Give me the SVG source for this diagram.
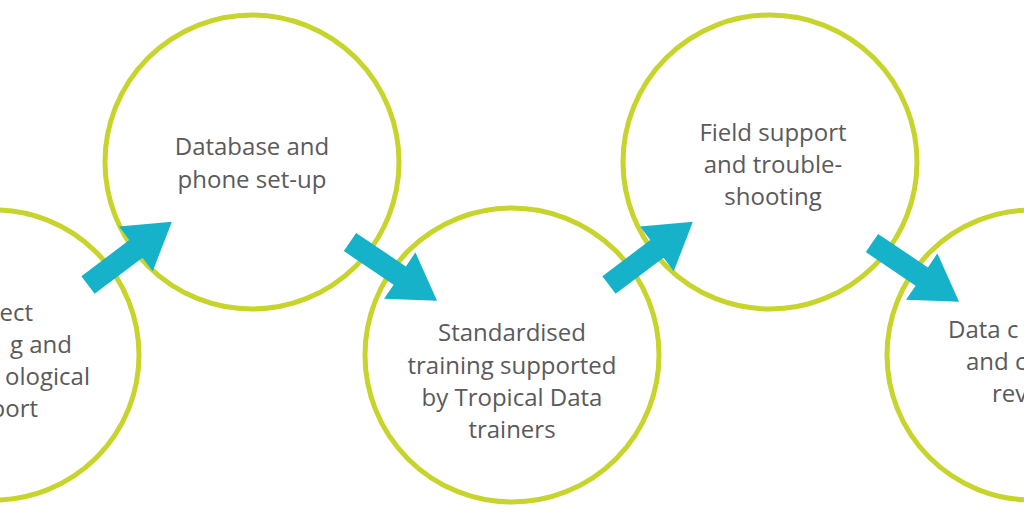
<svg xmlns="http://www.w3.org/2000/svg" width="1024" height="512" viewBox="0 0 1024 512">
<style>
.c{fill:none;stroke:#c6d42c;stroke-width:5}
.a{fill:#16b2c9}
text{font-family:"Open Sans","Liberation Sans",sans-serif;font-size:24px;fill:#5a5a5a}
</style>
<defs><path id="arr" d="M0,-11 L60,-11 L60,-28 L105,0 L60,28 L60,11 L0,11 Z"/></defs>
<rect width="1024" height="512" fill="#fff"/>
<g id="n1"><circle class="c" cx="-6" cy="355" r="145"/>
<text text-anchor="end" x="33" y="321">ect</text><text text-anchor="end" x="72" y="353">g and</text><text text-anchor="end" x="90" y="385">ological</text><text text-anchor="end" x="38" y="417">port</text></g>
<g id="n2"><circle class="c" cx="252" cy="162" r="147"/>
<text text-anchor="middle" x="252" y="155">Database and</text><text text-anchor="middle" x="252" y="188">phone set-up</text></g>
<g id="n3"><circle class="c" cx="512" cy="355" r="147"/>
<text text-anchor="middle" x="512" y="341">Standardised</text><text text-anchor="middle" x="512" y="374">training supported</text><text text-anchor="middle" x="512" y="406">by Tropical Data</text><text text-anchor="middle" x="512" y="438">trainers</text></g>
<g id="n4"><circle class="c" cx="770" cy="162" r="147"/>
<text text-anchor="middle" x="773" y="141">Field support</text><text text-anchor="middle" x="773" y="173">and trouble-</text><text text-anchor="middle" x="773" y="205">shooting</text></g>
<g id="n5"><circle class="c" cx="1032" cy="355" r="145"/>
<text x="948" y="338">Data c</text><text x="966" y="370">and c</text><text x="992" y="402">rev</text></g>
<g id="connectors">
<use href="#arr" class="a" transform="translate(88,285) rotate(-37)"/>
<use href="#arr" class="a" transform="translate(350,242) rotate(34)"/>
<use href="#arr" class="a" transform="translate(609,285) rotate(-37)"/>
<use href="#arr" class="a" transform="translate(872,243) rotate(34)"/>
</g>
</svg>
